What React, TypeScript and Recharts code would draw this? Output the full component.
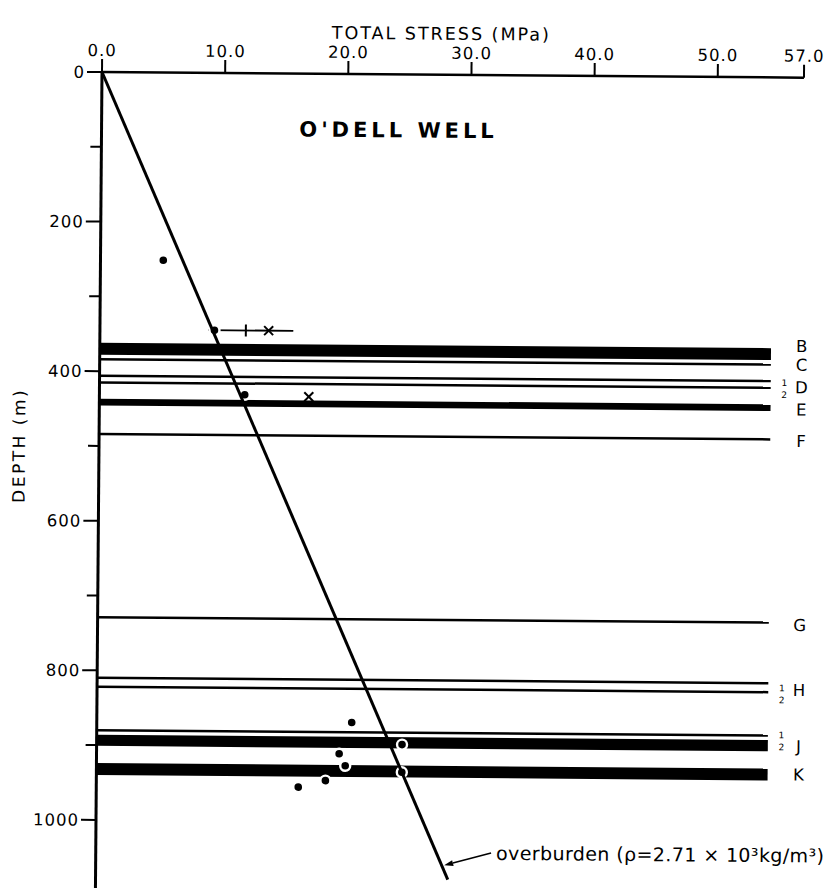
import {
  ComposedChart,
  XAxis,
  YAxis,
  Scatter,
  ReferenceLine,
  ReferenceArea,
} from "recharts";

const INK = "#000";
const FONT = "'DejaVu Sans', Verdana, sans-serif";

// axes: total stress (MPa) across the top, depth (m) down the side
const STRESS_TICKS = [0, 10, 20, 30, 40, 50, 57];
const DEPTH_TICKS = [0, 100, 200, 300, 400, 500, 600, 700, 800, 900, 1000];

// thick coal beds drawn as bands (top / bottom depth, m)
const SEAM_BANDS = [
  { name: "B", top: 362, bottom: 378 },
  { name: "E", top: 437, bottom: 446 },
  { name: "J", top: 886, bottom: 901 },
  { name: "K", top: 924, bottom: 940 },
];
// thin seams drawn as single lines (depth, m)
const SEAM_LINES = [384, 406, 415, 484, 729, 810, 822, 880];
const SEAM_END = 54.5;

// seam letters and the little "1/2" marks beside some of them
const SEAM_LABELS = [
  { name: "B", depth: 359 },
  { name: "C", depth: 384 },
  { name: "D", depth: 414 },
  { name: "E", depth: 444 },
  { name: "F", depth: 486 },
  { name: "G", depth: 732 },
  { name: "H", depth: 819 },
  { name: "J", depth: 894 },
  { name: "K", depth: 932 },
];
const HALF_MARKS = [416, 824, 887];
const LABEL_STRESS = 57.0;
const HALF_STRESS = 55.6;

// measured stresses
const DOTS = [
  { stress: 5.1, depth: 251 },
  { stress: 9.3, depth: 344 },
  { stress: 11.8, depth: 430 },
  { stress: 20.7, depth: 867 },
  { stress: 24.8, depth: 896 },
  { stress: 19.7, depth: 909 },
  { stress: 20.2, depth: 925 },
  { stress: 24.8, depth: 933 },
  { stress: 18.6, depth: 945 },
  { stress: 16.4, depth: 954 },
];
const CROSSES = [
  { stress: 13.7, depth: 344 },
  { stress: 17.0, depth: 432 },
];
const RANGE = { from: 8.8, to: 15.7, mark: 11.85, depth: 344 };

// overburden gradient, rho = 2.71e3 kg/m3
const OVERBURDEN = [
  { stress: 0, depth: 0 },
  { stress: 28.6, depth: 1076 },
];
const ARROW = { tail: { x: 32.1, y: 1040 }, head: { x: 28.3, y: 1057 } };

function DepthTick(props: any) {
  const { x, y, payload } = props;
  const major = payload.value % 200 === 0;
  return (
    <g>
      <line x1={x - (major ? 15 : 11)} x2={x} y1={y} y2={y} stroke={INK} strokeWidth={2} />
      {major && (
        <text
          x={x - 17}
          y={y}
          dy="0.36em"
          textAnchor="end"
          fontSize={16.5}
          fontFamily={FONT}
          letterSpacing={1}
          fill={INK}
        >
          {payload.value}
        </text>
      )}
    </g>
  );
}

function Dot(props: any) {
  return (
    <g>
      <circle cx={props.cx} cy={props.cy} r={6.2} fill="#fff" />
      <circle cx={props.cx} cy={props.cy} r={3.8} fill={INK} />
    </g>
  );
}

function Cross(props: any) {
  const { cx, cy } = props;
  const s = 4.5;
  return (
    <g stroke={INK} strokeWidth={2}>
      <line x1={cx - s} y1={cy - s} x2={cx + s} y2={cy + s} />
      <line x1={cx - s} y1={cy + s} x2={cx + s} y2={cy - s} />
    </g>
  );
}

function SeamLetter(props: any) {
  return (
    <text
      x={props.cx}
      y={props.cy}
      dy="0.36em"
      textAnchor="middle"
      fontSize={16.5}
      fontFamily={FONT}
      fill={INK}
    >
      {props.payload.name}
    </text>
  );
}

function HalfMark(props: any) {
  const { cx, cy } = props;
  return (
    <g fontSize={9} fontFamily={FONT} fill={INK} textAnchor="middle">
      <text x={cx} y={cy - 2.5}>1</text>
      <text x={cx} y={cy + 9.5}>2</text>
    </g>
  );
}

function Nothing() {
  return <g />;
}

function OverburdenArrow(props: any) {
  const { x1, y1, x2, y2 } = props;
  const a = Math.atan2(y2 - y1, x2 - x1);
  const L = 9;
  const W = 3;
  const bx = x2 - L * Math.cos(a);
  const by = y2 - L * Math.sin(a);
  return (
    <g>
      <line x1={x1} y1={y1} x2={bx} y2={by} stroke={INK} strokeWidth={1.6} />
      <polygon
        points={`${x2},${y2} ${bx - W * Math.sin(a)},${by + W * Math.cos(a)} ${bx + W * Math.sin(a)},${by - W * Math.cos(a)}`}
        fill={INK}
      />
      <text
        x={x1 + 5}
        y={y1}
        dy="0.36em"
        fontSize={19}
        letterSpacing={0.4}
        fontFamily={FONT}
        fill={INK}
      >
        overburden (ρ=2.71 × 10³kg/m³)
      </text>
    </g>
  );
}

export default function App() {
  const labelData = SEAM_LABELS.map((l) => ({ ...l, stress: LABEL_STRESS }));
  const halfData = HALF_MARKS.map((d) => ({ depth: d, stress: HALF_STRESS }));

  return (
    <div
      style={{
        position: "fixed",
        top: 0,
        left: 0,
        width: 830,
        height: 888,
        overflow: "hidden",
        background: "#fff",
      }}
    >
      <div
        style={{
          position: "relative",
          width: 830,
          height: 888,
          transform: "rotate(0.46deg)",
          transformOrigin: "102px 72px",
          fontFamily: FONT,
          color: INK,
        }}
      >
        <div
          style={{
            position: "absolute",
            left: 441,
            top: 31,
            transform: "translate(-50%, -50%)",
            fontSize: 17.5,
            letterSpacing: 2,
            whiteSpace: "nowrap",
          }}
        >
          TOTAL STRESS (MPa)
        </div>
        <div
          style={{
            position: "absolute",
            left: 399,
            top: 128,
            transform: "translate(-50%, -50%)",
            fontSize: 21,
            fontWeight: "bold",
            letterSpacing: 4,
            whiteSpace: "nowrap",
          }}
        >
          O'DELL WELL
        </div>
        <div
          style={{
            position: "absolute",
            left: 22,
            top: 446,
            transform: "translate(-50%, -50%) rotate(-90deg)",
            fontSize: 17,
            letterSpacing: 2.5,
            whiteSpace: "nowrap",
          }}
        >
          DEPTH (m)
        </div>

        <ComposedChart width={830} height={888} margin={{ top: 32, right: 26, bottom: 0, left: 42 }}>
          <XAxis
            orientation="top"
            type="number"
            dataKey="stress"
            domain={[0, 57]}
            ticks={STRESS_TICKS}
            interval={0}
            tickFormatter={(v: number) => v.toFixed(1)}
            height={40}
            tickSize={13}
            tickMargin={3}
            axisLine={{ stroke: INK, strokeWidth: 2.5 }}
            tickLine={{ stroke: INK, strokeWidth: 2 }}
            tick={{ fill: INK, fontSize: 16.5, fontFamily: FONT, letterSpacing: 1 }}
          />
          <YAxis
            type="number"
            dataKey="depth"
            domain={[0, 1091]}
            reversed
            ticks={DEPTH_TICKS}
            interval={0}
            width={60}
            tickSize={0}
            tickMargin={0}
            tickLine={false}
            axisLine={{ stroke: INK, strokeWidth: 3 }}
            tick={<DepthTick />}
          />

          {SEAM_BANDS.map((s) => (
            <ReferenceArea
              key={s.name}
              x1={0}
              x2={SEAM_END}
              y1={s.top}
              y2={s.bottom}
              fill={INK}
              fillOpacity={1}
              stroke="none"
            />
          ))}
          {SEAM_LINES.map((d) => (
            <ReferenceLine
              key={d}
              segment={[
                { x: 0, y: d },
                { x: SEAM_END, y: d },
              ]}
              stroke={INK}
              strokeWidth={2.5}
            />
          ))}

          <Scatter data={DOTS} shape={Dot} isAnimationActive={false} />

          <ReferenceLine
            segment={[
              { x: RANGE.from, y: RANGE.depth },
              { x: RANGE.to, y: RANGE.depth },
            ]}
            stroke={INK}
            strokeWidth={1.8}
          />
          <ReferenceLine
            segment={[
              { x: RANGE.mark, y: RANGE.depth - 8 },
              { x: RANGE.mark, y: RANGE.depth + 8 },
            ]}
            stroke={INK}
            strokeWidth={2}
          />
          <Scatter data={CROSSES} shape={Cross} isAnimationActive={false} />

          <Scatter
            data={OVERBURDEN}
            line={{ stroke: INK, strokeWidth: 3 }}
            shape={Nothing}
            isAnimationActive={false}
          />
          <ReferenceLine segment={[ARROW.tail, ARROW.head]} shape={OverburdenArrow} />

          <Scatter data={labelData} shape={SeamLetter} isAnimationActive={false} />
          <Scatter data={halfData} shape={HalfMark} isAnimationActive={false} />
        </ComposedChart>
      </div>
    </div>
  );
}
